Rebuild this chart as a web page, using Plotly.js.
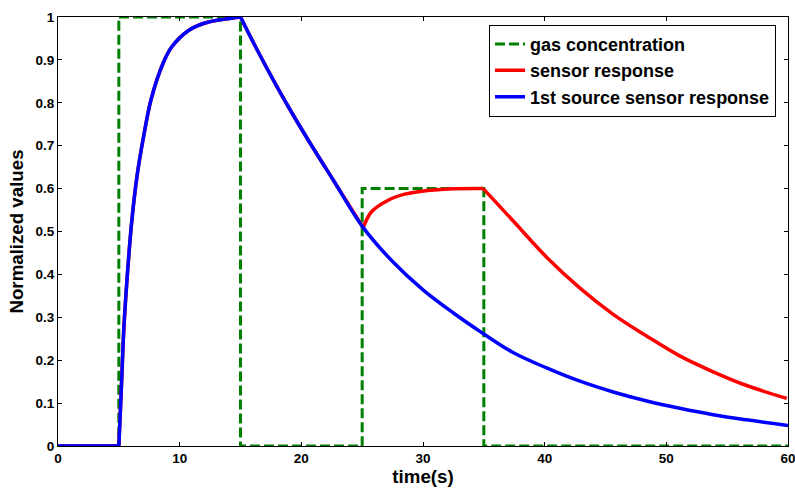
<!DOCTYPE html>
<html>
<head>
<meta charset="utf-8">
<script src="https://cdn.plot.ly/plotly-3.0.1.min.js"></script>
<style>html,body{margin:0;padding:0;background:#fff}#chart{width:795px;height:489px}</style>
</head>
<body>
<div id="chart"></div>
<script>
// gas concentration (step input)
const gasTime  = [0, 5, 5, 15, 15, 25, 25, 35, 35, 60];
const gasValue = [0, 0, 1, 1, 0, 0, 0.6, 0.6, 0, 0];

// 1st source sensor response
const srcTime  = [0, 5, 5.2, 5.42, 5.69, 6.02, 6.49, 7.04, 7.67, 8.68, 9.34, 10.7, 12.08, 13.7, 15,
                  16.32, 17.97, 19.34, 20.98, 22.62, 25.09, 27.5, 30, 32.5, 34.95,
                  37.4, 40.16, 42.9, 45.63, 48.4, 51.1, 53.85, 56.6, 60];
const srcValue = [0, 0, 0.131, 0.278, 0.395, 0.511, 0.628, 0.722, 0.81, 0.895, 0.93, 0.968, 0.986, 0.995, 1.0,
                  0.926, 0.839, 0.771, 0.694, 0.62, 0.509, 0.43, 0.364, 0.31, 0.262,
                  0.218, 0.182, 0.151, 0.126, 0.105, 0.088, 0.073, 0.061, 0.048];

// sensor response (same as source until 25 s, then second step)
const sensTime  = [0, 5, 5.2, 5.42, 5.69, 6.02, 6.49, 7.04, 7.67, 8.68, 9.34, 10.7, 12.08, 13.7, 15,
                   16.32, 17.97, 19.34, 20.98, 22.62, 25.09,
                   25.77, 27.14, 28.5, 29.9, 32.1, 34.95,
                   37.4, 40.16, 42.9, 45.63, 48.4, 51.1, 53.85, 56.6, 59.9];
const sensValue = [0, 0, 0.131, 0.278, 0.395, 0.511, 0.628, 0.722, 0.81, 0.895, 0.93, 0.968, 0.986, 0.995, 1.0,
                   0.926, 0.839, 0.771, 0.694, 0.62, 0.509,
                   0.546, 0.573, 0.587, 0.594, 0.599, 0.6,
                   0.525, 0.44, 0.368, 0.307, 0.256, 0.21, 0.173, 0.141, 0.111];

// times where the input switches (curve corners)
const srcBreaks  = [0, 5, 15, 60];
const sensBreaks = [0, 5, 15, 25.09, 34.95, 60];

const xTicks = [0, 10, 20, 30, 40, 50, 60];
const yTicks = [0, 0.1, 0.2, 0.3, 0.4, 0.5, 0.6, 0.7, 0.8, 0.9, 1];
const yTickText = ['0', '0.1', '0.2', '0.3', '0.4', '0.5', '0.6', '0.7', '0.8', '0.9', '1'];

const FONT = 'Liberation Sans, Arial, sans-serif';

// split a series at its corners so each smooth piece is drawn as a spline
function pieces(t, v, breaks, name, color, group) {
  const out = [];
  for (let k = 0; k < breaks.length - 1; k++) {
    const xs = [], ys = [];
    for (let i = 0; i < t.length; i++) {
      if (t[i] >= breaks[k] && t[i] <= breaks[k + 1]) { xs.push(t[i]); ys.push(v[i]); }
    }
    out.push({x: xs, y: ys, mode: 'lines', name: name, legendgroup: group,
              showlegend: k === 0,
              line: {color: color, width: 3.5, shape: 'spline', smoothing: 1}});
  }
  return out;
}

const traces = [
  {x: gasTime, y: gasValue, mode: 'lines', name: 'gas concentration', legendgroup: 'g',
   line: {color: '#008000', width: 3, dash: '10px,4px'}},
  ...pieces(sensTime, sensValue, sensBreaks, 'sensor response', '#ff0000', 's'),
  ...pieces(srcTime, srcValue, srcBreaks, '1st source sensor response', '#0000ff', 'b')
];

const layout = {
  width: 795, height: 489,
  margin: {l: 58, r: 7, t: 17, b: 43},
  paper_bgcolor: '#fff', plot_bgcolor: '#fff',
  font: {family: FONT, color: '#000'},
  showlegend: true,
  legend: {x: 0.9836, xanchor: 'right', y: 0.982, yanchor: 'top',
           bgcolor: '#fff', bordercolor: '#000', borderwidth: 1,
           font: {family: FONT, size: 18, color: '#000', weight: 'bold'},
           tracegroupgap: 0, traceorder: 'normal'},
  xaxis: {range: [0, 60], tickvals: xTicks, ticktext: xTicks.map(String),
          ticks: 'inside', ticklen: 4, tickcolor: '#000', tickwidth: 1,
          showline: true, linecolor: '#000', linewidth: 1, mirror: 'ticks',
          showgrid: false, zeroline: false, fixedrange: true, ticklabeloverflow: 'allow',
          tickfont: {family: FONT, size: 13.5, weight: 'bold'},
          title: {text: 'time(s)', font: {family: FONT, size: 18.7, weight: 'bold'}, standoff: 4}},
  yaxis: {range: [0, 1], tickvals: yTicks, ticktext: yTickText,
          ticks: 'inside', ticklen: 4, tickcolor: '#000', tickwidth: 1,
          showline: true, linecolor: '#000', linewidth: 1, mirror: 'ticks',
          showgrid: false, zeroline: false, fixedrange: true, ticklabeloverflow: 'allow',
          tickfont: {family: FONT, size: 13.5, weight: 'bold'},
          title: {text: 'Normalized values', font: {family: FONT, size: 18.7, weight: 'bold'}, standoff: 6}}
};

Plotly.newPlot('chart', traces, layout, {displayModeBar: false, staticPlot: true});
</script>
</body>
</html>
